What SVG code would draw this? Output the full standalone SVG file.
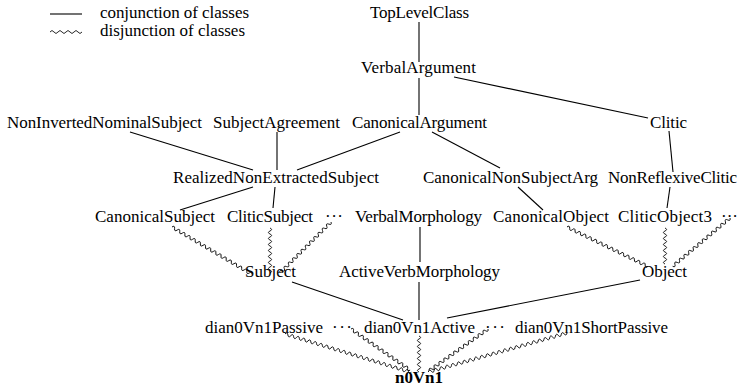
<svg xmlns="http://www.w3.org/2000/svg" width="739" height="386" viewBox="0 0 739 386" font-family="Liberation Serif, Times New Roman, serif" font-size="17">
<style>
.m{text-anchor:middle}
.b{font-weight:bold}
.ln{stroke:#000;stroke-width:1.1;fill:none}
.wv{stroke:#000;stroke-width:0.85;fill:none}
</style>
<rect width="739" height="386" fill="#fff"/>
<g id="legend" font-family="Liberation Serif, serif">
<line class="ln" x1="50" y1="14" x2="82" y2="14"/>
<text x="100" y="18" textLength="149">conjunction of classes</text>
<path class="wv" d="M50,32q2,-3 4,0t4,0t4,0t4,0t4,0t4,0t4,0t4,0"/>
<text x="100" y="36" textLength="145">disjunction of classes</text>
</g>
<g id="connectors">
<line class="ln" x1="419" y1="22" x2="419" y2="62"/>
<line class="ln" x1="419" y1="78" x2="419" y2="115"/>
<line class="ln" x1="454" y1="77" x2="648" y2="118"/>
<line class="ln" x1="400" y1="132" x2="297" y2="170"/>
<line class="ln" x1="432" y1="132" x2="500" y2="168"/>
<line class="ln" x1="669" y1="131" x2="673" y2="172"/>
<line class="ln" x1="130" y1="132" x2="253" y2="170"/>
<line class="ln" x1="277" y1="132" x2="277" y2="170"/>
<line class="ln" x1="253" y1="187" x2="180" y2="210"/>
<line class="ln" x1="275" y1="187" x2="273" y2="208"/>
<line class="ln" x1="518" y1="187" x2="543" y2="210"/>
<line class="ln" x1="670" y1="187" x2="667" y2="208"/>
<line class="ln" x1="420" y1="227" x2="420" y2="262"/>
<line class="ln" x1="292" y1="282" x2="403" y2="320"/>
<line class="ln" x1="419" y1="282" x2="419" y2="320"/>
<line class="ln" x1="640" y1="280" x2="447" y2="318"/>
<path class="wv" transform="translate(172,227) rotate(30.65)" d="M0,0q1.5,-3.2 3,0t3,0t3,0t3,0t3,0t3,0t3,0t3,0t3,0t3,0t3,0t3,0t3,0t3,0t3,0t3,0t3,0t3,0t3,0t3,0t3,0t3,0t3,0t3,0t3,0t3,0t3,0t3,0t3,0t3,0t3,0"/>
<path class="wv" transform="translate(270,228) rotate(90)" d="M0,0q1.5,-3.2 3,0t3,0t3,0t3,0t3,0t3,0t3,0t3,0t3,0t3,0t3,0t3,0t3,0t3,0t3,0"/>
<path class="wv" transform="translate(331,222) rotate(135)" d="M0,0q1.5,-3.2 3,0t3,0t3,0t3,0t3,0t3,0t3,0t3,0t3,0t3,0t3,0t3,0t3,0t3,0t3,0t3,0t3,0t3,0t3,0t3,0t3,0t3,0t3,0t3,0"/>
<path class="wv" transform="translate(567,227) rotate(25.99)" d="M0,0q1.5,-3.2 3,0t3,0t3,0t3,0t3,0t3,0t3,0t3,0t3,0t3,0t3,0t3,0t3,0t3,0t3,0t3,0t3,0t3,0t3,0t3,0t3,0t3,0t3,0t3,0t3,0t3,0t3,0t3,0t3,0t3,0"/>
<path class="wv" transform="translate(665,228) rotate(90)" d="M0,0q1.5,-3.2 3,0t3,0t3,0t3,0t3,0t3,0t3,0t3,0t3,0t3,0t3,0t3,0"/>
<path class="wv" transform="translate(730,218) rotate(139.9)" d="M0,0q1.5,-3.2 3,0t3,0t3,0t3,0t3,0t3,0t3,0t3,0t3,0t3,0t3,0t3,0t3,0t3,0t3,0t3,0t3,0t3,0t3,0t3,0t3,0t3,0t3,0t3,0t3,0"/>
<path class="wv" transform="translate(285,334) rotate(16.9)" d="M0,0q1.5,-3.2 3,0t3,0t3,0t3,0t3,0t3,0t3,0t3,0t3,0t3,0t3,0t3,0t3,0t3,0t3,0t3,0t3,0t3,0t3,0t3,0t3,0t3,0t3,0t3,0t3,0t3,0t3,0t3,0t3,0t3,0t3,0t3,0t3,0t3,0t3,0t3,0t3,0t3,0t3,0t3,0t3,0t3,0t3,0t3,0"/>
<path class="wv" transform="translate(351,329) rotate(34.8)" d="M0,0q1.5,-3.2 3,0t3,0t3,0t3,0t3,0t3,0t3,0t3,0t3,0t3,0t3,0t3,0t3,0t3,0t3,0t3,0t3,0t3,0t3,0t3,0t3,0t3,0t3,0t3,0"/>
<path class="wv" transform="translate(419,336) rotate(90)" d="M0,0q1.5,-3.2 3,0t3,0t3,0t3,0t3,0t3,0t3,0t3,0t3,0t3,0t3,0t3,0"/>
<path class="wv" transform="translate(488,329) rotate(144.7)" d="M0,0q1.5,-3.2 3,0t3,0t3,0t3,0t3,0t3,0t3,0t3,0t3,0t3,0t3,0t3,0t3,0t3,0t3,0t3,0t3,0t3,0t3,0t3,0t3,0t3,0t3,0t3,0"/>
<path class="wv" transform="translate(567,333) rotate(164.3)" d="M0,0q1.5,-3.2 3,0t3,0t3,0t3,0t3,0t3,0t3,0t3,0t3,0t3,0t3,0t3,0t3,0t3,0t3,0t3,0t3,0t3,0t3,0t3,0t3,0t3,0t3,0t3,0t3,0t3,0t3,0t3,0t3,0t3,0t3,0t3,0t3,0t3,0t3,0t3,0t3,0t3,0t3,0t3,0t3,0t3,0t3,0t3,0t3,0t3,0t3,0t3,0"/>
</g>
<g id="TopLevelClass"><text class="m" x="419.5" y="18" textLength="99">TopLevelClass</text></g>
<g id="VerbalArgument"><text class="m" x="418.5" y="73" textLength="115">VerbalArgument</text></g>
<g id="NonInvertedNominalSubject"><text class="m" x="104.5" y="128" textLength="195">NonInvertedNominalSubject</text></g>
<g id="SubjectAgreement"><text class="m" x="276.5" y="128" textLength="127">SubjectAgreement</text></g>
<g id="CanonicalArgument"><text class="m" x="419.5" y="128" textLength="135">CanonicalArgument</text></g>
<g id="Clitic"><text class="m" x="668.5" y="128" textLength="37">Clitic</text></g>
<g id="RealizedNonExtractedSubject"><text class="m" x="276" y="183" textLength="206">RealizedNonExtractedSubject</text></g>
<g id="CanonicalNonSubjectArg"><text class="m" x="510.5" y="183" textLength="175">CanonicalNonSubjectArg</text></g>
<g id="NonReflexiveClitic"><text class="m" x="672.5" y="183" textLength="129">NonReflexiveClitic</text></g>
<g id="CanonicalSubject"><text class="m" x="155" y="222" textLength="120">CanonicalSubject</text></g>
<g id="CliticSubject"><text class="m" x="270" y="222" textLength="86">CliticSubject</text></g>
<g id="dotsSubject"><text x="325" y="222" textLength="18">···</text></g>
<g id="VerbalMorphology"><text class="m" x="418.5" y="222" textLength="127">VerbalMorphology</text></g>
<g id="CanonicalObject"><text class="m" x="551" y="222" textLength="116">CanonicalObject</text></g>
<g id="CliticObject3"><text class="m" x="665" y="222" textLength="94">CliticObject3</text></g>
<g id="dotsObject"><text x="721" y="222" textLength="17">···</text></g>
<g id="Subject"><text class="m" x="270.5" y="277" textLength="51">Subject</text></g>
<g id="ActiveVerbMorphology"><text class="m" x="419.5" y="277" textLength="161">ActiveVerbMorphology</text></g>
<g id="Object"><text class="m" x="664.5" y="277" textLength="45">Object</text></g>
<g id="dian0Vn1Passive"><text class="m" x="264" y="333" textLength="118">dian0Vn1Passive</text></g>
<g id="dotsLeft"><text x="332" y="333" textLength="20">···</text></g>
<g id="dian0Vn1Active"><text class="m" x="419.5" y="333" textLength="111">dian0Vn1Active</text></g>
<g id="dotsRight"><text x="485" y="333" textLength="20">···</text></g>
<g id="dian0Vn1ShortPassive"><text class="m" x="591.5" y="333" textLength="153">dian0Vn1ShortPassive</text></g>
<g id="n0Vn1"><text class="m b" x="419" y="383" textLength="48">n0Vn1</text></g>
</svg>
